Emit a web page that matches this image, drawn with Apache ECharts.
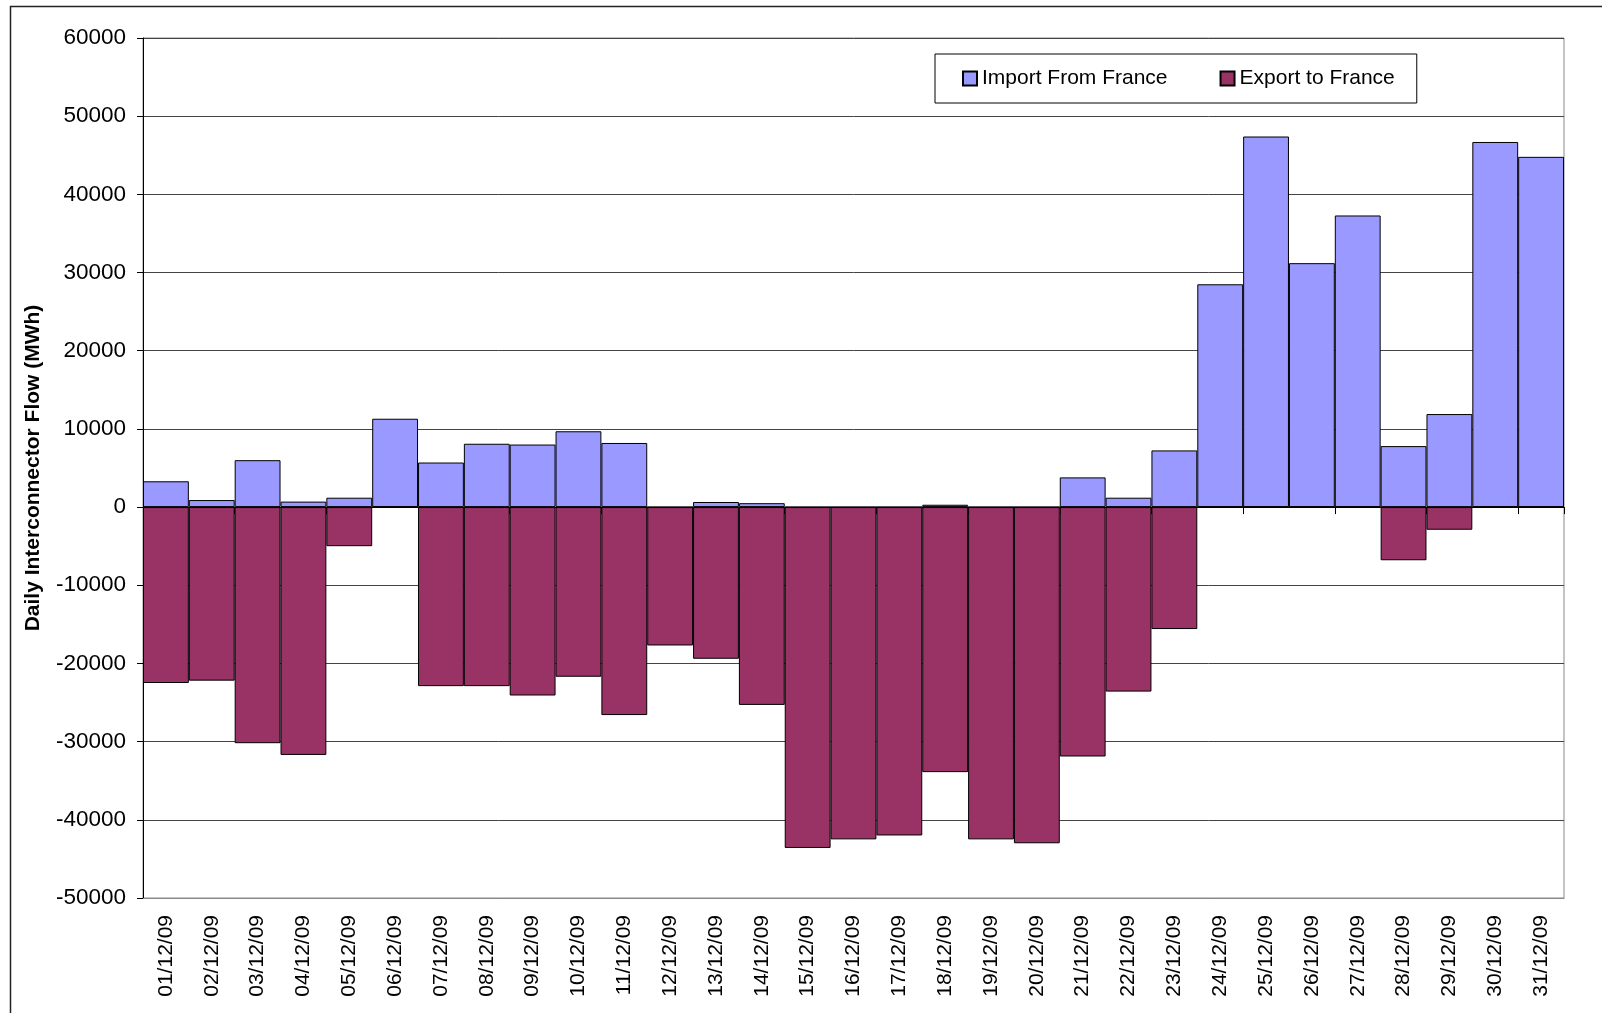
<!DOCTYPE html>
<html>
<head>
<meta charset="utf-8">
<title>Daily Interconnector Flow</title>
<script src="https://cdn.jsdelivr.net/npm/echarts@6/dist/echarts.min.js"></script>
<style>
    html, body { margin: 0; padding: 0; background: #fff; }
    #chart { width: 1602px; height: 1013px; }
</style>
</head>
<body>
<div id="chart"></div>
<script>
// 日期
var dates = ['01/12/09', '02/12/09', '03/12/09', '04/12/09', '05/12/09', '06/12/09', '07/12/09', '08/12/09',
    '09/12/09', '10/12/09', '11/12/09', '12/12/09', '13/12/09', '14/12/09', '15/12/09', '16/12/09',
    '17/12/09', '18/12/09', '19/12/09', '20/12/09', '21/12/09', '22/12/09', '23/12/09', '24/12/09',
    '25/12/09', '26/12/09', '27/12/09', '28/12/09', '29/12/09', '30/12/09', '31/12/09'];
// 进口 (MWh)
var importFlow = [3300, 900, 6000, 700, 1200, 11300, 5700, 8100, 8000, 9700, 8200, 0, 650, 500, 0, 0,
    0, 300, 0, 0, 3800, 1200, 7250, 28500, 47400, 31200, 37300, 7800, 11900, 46700, 44800];
// 出口 (MWh)
var exportFlow = [-22500, -22200, -30200, -31700, -5000, 0, -22900, -22900, -24100, -21700, -26600, -17700,
    -19400, -25300, -43600, -42500, -42000, -33900, -42500, -43000, -31900, -23600, -15600, 0,
    0, 0, 0, -6800, -2900, 0, 0];
var yTicks = [-50000, -40000, -30000, -20000, -10000, 0, 10000, 20000, 30000, 40000, 50000, 60000];

var FONT = "'Liberation Sans', Arial, sans-serif";
var myChart = echarts.init(document.getElementById('chart'));

var option = {
    backgroundColor: '#fff',
    animation: false,
    textStyle: { fontFamily: FONT },
    graphic: [{
        type: 'rect',
        shape: { x: 10.5, y: 6.5, width: 1700, height: 1100 },
        style: { fill: 'none', stroke: '#222', lineWidth: 1.5 },
        silent: true,
        z: -1
    }],
    legend: {
        left: 935,
        top: 54,
        padding: [14, 22, 14, 27],
        itemWidth: 14,
        itemHeight: 14,
        itemGap: 52,
        borderColor: '#000',
        borderWidth: 1,
        icon: 'rect',
        textStyle: { fontSize: 21, color: '#000', fontFamily: FONT },
        data: ['Import From France', 'Export to France']
    },
    grid: {
        left: 143,
        right: 38,
        top: 38,
        bottom: 115,
        show: true,
        borderColor: '#888',
        borderWidth: 1
    },
    xAxis: [{
        // 零线 + 刻度
        type: 'category',
        data: dates,
        position: 'bottom',
        boundaryGap: true,
        axisLine: { onZero: true, lineStyle: { color: '#000', width: 1 } },
        axisTick: { show: true, inside: false, length: 7, lineStyle: { color: '#000' } },
        axisLabel: { show: false },
        splitLine: { show: false }
    }, {
        // 底部日期标签
        type: 'category',
        data: dates,
        position: 'bottom',
        offset: 0,
        axisLine: { onZero: false, lineStyle: { color: '#888' } },
        axisTick: { show: false },
        axisLabel: {
            rotate: 90,
            margin: 17,
            fontSize: 21,
            color: '#000',
            fontFamily: FONT,
            interval: 0
        },
        splitLine: { show: false }
    }],
    yAxis: {
        type: 'value',
        min: yTicks[0],
        max: yTicks[yTicks.length - 1],
        interval: 10000,
        name: 'Daily Interconnector Flow (MWh)',
        nameLocation: 'middle',
        nameGap: 99,
        nameTextStyle: { fontSize: 21, fontWeight: 'bold', color: '#000', fontFamily: FONT },
        axisLine: { show: true, lineStyle: { color: '#000' } },
        axisTick: { show: true, inside: false, length: 6, lineStyle: { color: '#000' } },
        axisLabel: {
            fontSize: 22.5,
            color: '#000',
            margin: 17,
            fontFamily: FONT,
            formatter: function (v) { return String(v); }
        },
        splitLine: { show: true, lineStyle: { color: '#444', width: 1 } }
    },
    series: [{
        name: 'Import From France',
        type: 'bar',
        data: importFlow,
        barCategoryGap: '0%',
        barGap: '-100%',
        itemStyle: { color: '#9999FF', borderColor: '#000', borderWidth: 1 }
    }, {
        name: 'Export to France',
        type: 'bar',
        data: exportFlow,
        barCategoryGap: '0%',
        barGap: '-100%',
        itemStyle: { color: '#993366', borderColor: '#000', borderWidth: 1 }
    }]
};

myChart.setOption(option);
</script>
</body>
</html>
